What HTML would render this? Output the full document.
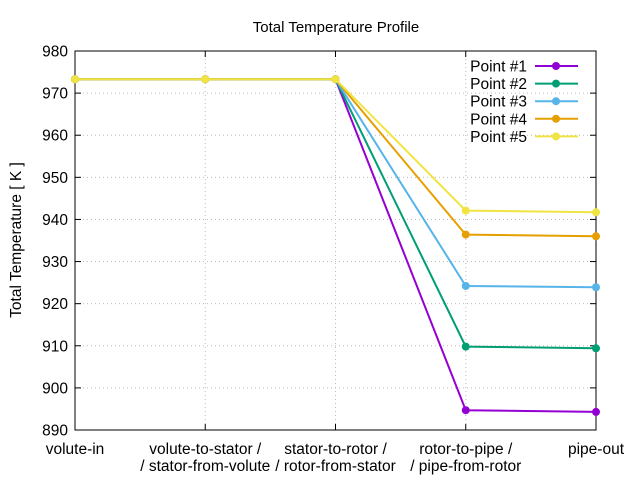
<!DOCTYPE html>
<html><head><meta charset="utf-8"><style>
body{margin:0;background:#fff}
svg text{font-family:"Liberation Sans",sans-serif;font-size:15.5px;fill:#000}
</style></head><body>
<svg id="chart" width="640" height="480" xmlns="http://www.w3.org/2000/svg">
<text x="336" y="32" text-anchor="middle" style="font-size:15px">Total Temperature Profile</text>
<text transform="translate(21,240) rotate(-90)" text-anchor="middle">Total Temperature [ K ]</text>
<g id="grid"></g><g id="axes"></g><g id="series"></g><g id="legend"></g>
</svg>
<script>
const categories=[["volute-in"],["volute-to-stator /","/ stator-from-volute"],["stator-to-rotor /","/ rotor-from-stator"],["rotor-to-pipe /","/ pipe-from-rotor"],["pipe-out"]];
const yTicks=[890,900,910,920,930,940,950,960,970,980];
const seriesNames=["Point #1","Point #2","Point #3","Point #4","Point #5"];
const p1=[973.3,973.3,973.3,894.7,894.3];
const p2=[973.3,973.3,973.3,909.8,909.4];
const p3=[973.3,973.3,973.3,924.2,923.9];
const p4=[973.3,973.3,973.3,936.4,936.0];
const p5=[973.3,973.3,973.3,942.1,941.7];
const seriesData=[p1,p2,p3,p4,p5];
const colors=["#9400d3","#009e73","#56b4e9","#e69f00","#f0e442"];
const L=75,R=596,T=51,B=430,ymin=890,ymax=980;
const xs=i=>L+i*(R-L)/(categories.length-1);
const ys=v=>B-(v-ymin)/(ymax-ymin)*(B-T);
const NS="http://www.w3.org/2000/svg";
function mk(p,t,a){const e=document.createElementNS(NS,t);for(const k in a)e.setAttribute(k,a[k]);p.appendChild(e);return e;}
const g=document.getElementById('grid'),ax=document.getElementById('axes'),sg=document.getElementById('series'),lg=document.getElementById('legend');
yTicks.forEach(v=>{const y=ys(v);
 if(v>ymin&&v<ymax){const l=mk(g,'line',{x1:L,x2:R,y1:y,y2:y,stroke:'#bbb','stroke-dasharray':'1,3'});
 
 }
 const t1=mk(ax,'line',{x1:L,x2:L+6,y1:y,y2:y,stroke:'#000'});
 
 
 const t2=mk(ax,'line',{x1:R,x2:R-6,y1:y,y2:y,stroke:'#000'});
 
 
 const tx=mk(ax,'text',{x:L-7,y:y+5.5,'text-anchor':'end'});tx.textContent=v;
 
 });
categories.forEach((c,i)=>{const x=xs(i);
 if(i>0&&i<categories.length-1){const l=mk(g,'line',{x1:x,x2:x,y1:T,y2:B,stroke:'#bbb','stroke-dasharray':'1,3'});
 
 }
 const t1=mk(ax,'line',{x1:x,x2:x,y1:B,y2:B-6,stroke:'#000'});
 
 
 const t2=mk(ax,'line',{x1:x,x2:x,y1:T,y2:T+6,stroke:'#000'});
 
 
 const tx=mk(ax,'text',{x:x,y:B+24,'text-anchor':'middle'});
 
 
 c.forEach((s,j)=>{const ts=mk(tx,'tspan',{x:x,dy:j?17:0});ts.textContent=s;});});
const fr=mk(ax,'rect',{x:L,y:T,width:R-L,height:B-T,fill:'none',stroke:'#000'});


seriesData.forEach((d,k)=>{
 const pl=mk(sg,'polyline',{points:d.map((v,i)=>xs(i)+','+ys(v)).join(' '),fill:'none',stroke:colors[k],'stroke-width':2});
 
 
 d.forEach((v,i)=>{const c=mk(sg,'circle',{cx:xs(i),cy:ys(v),r:4,fill:colors[k]});
 
 });
 const ly=66+k*17.6;
 const lt=mk(lg,'text',{x:527,y:ly+5.5,'text-anchor':'end'});lt.textContent=seriesNames[k];
 
 
 const ll=mk(lg,'line',{x1:535,x2:578,y1:ly,y2:ly,stroke:colors[k],'stroke-width':2});
 
 
 const lc=mk(lg,'circle',{cx:556,cy:ly,r:4,fill:colors[k]});
 
 
});
</script>
</body></html>
